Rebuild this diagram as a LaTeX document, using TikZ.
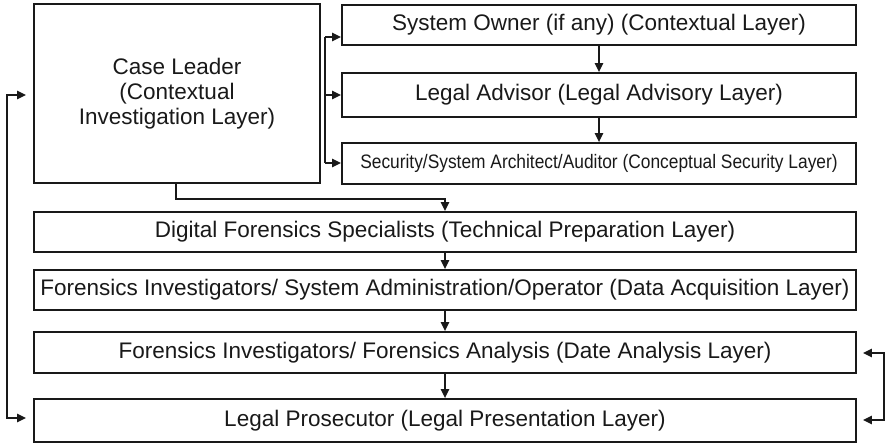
\documentclass[tikz,border=0pt]{standalone}
\usepackage{fontspec}
\setmainfont{Liberation Sans}
\usetikzlibrary{arrows.meta,calc}
\begin{document}
\begin{tikzpicture}[x=1pt,y=-1pt,
  box/.style={draw=black!90,line width=1.9pt,rectangle,inner sep=0pt,align=center,
    font=\fontsize{22.5}{25}\selectfont,text=black!90},
  conn/.style={draw=black!90,line width=1.4pt,-{Triangle[length=9pt,width=8.5pt]}},
  conn2/.style={draw=black!90,line width=1.4pt,{Triangle[length=9pt,width=8.5pt]}-{Triangle[length=9pt,width=8.5pt]}},
  line/.style={draw=black!90,line width=1.4pt}]
\useasboundingbox (0,0) rectangle (888,445);
\node[box,minimum width=286pt,minimum height=179pt] (cl) at (177,93.5) {Case Leader\\(Contextual\\Investigation Layer)};
\node[box,minimum width=514pt,minimum height=40pt] (so) at (599,25) {System Owner (if any) (Contextual Layer)};
\node[box,minimum width=514pt,minimum height=44pt] (la) at (599,95) {Legal Advisor (Legal Advisory Layer)};
\node[box,minimum width=514pt,minimum height=41pt] (se) at (599,163.5) {\fontsize{19.5}{22}\selectfont\scalebox{0.89}[1]{Security/System Architect/Auditor (Conceptual Security Layer)}};
\node[box,minimum width=822pt,minimum height=40pt] (df) at (445,232) {Digital Forensics Specialists (Technical Preparation Layer)};
\node[box,minimum width=822pt,minimum height=40pt] (fi) at (445,290) {Forensics Investigators/ System Administration/Operator (Data Acquisition Layer)};
\node[box,minimum width=822pt,minimum height=41pt] (fa) at (445,352.5) {Forensics Investigators/ Forensics Analysis (Date Analysis Layer)};
\node[box,minimum width=822pt,minimum height=43pt] (lp) at (445,420.5) {Legal Prosecutor (Legal Presentation Layer)};
% bus from case leader to right boxes
\coordinate (bt) at (325,37);
\coordinate (bm) at (325,95);
\coordinate (bb) at (325,163);
\draw[line] (bt) -- (bb);
\draw[conn] (bt) -- (bt -| so.west);
\draw[conn] (bm) -- (bm -| la.west);
\draw[conn] (bb) -- (bb -| se.west);
% vertical chain on right
\draw[conn] (so.south) -- (la.north);
\draw[conn] (la.south) -- (se.north);
% case leader to digital forensics
\draw[conn] ([xshift=-1pt]cl.south) -- ++(0,15) -| (df.north);
\draw[conn] (df.south) -- (fi.north);
\draw[conn] (fi.south) -- (fa.north);
\draw[conn] (fa.south) -- (lp.north);
% left feedback loop
\coordinate (lt) at (7,95);
\coordinate (lb) at (7,418);
\draw[conn2] ($(lt -| cl.west)+(-7,0)$) -- (lt) -- (lb) -- ($(lb -| lp.west)+(-7,0)$);
% right feedback loop
\coordinate (rt) at (884,353);
\coordinate (rb) at (884,420);
\draw[conn2] ($(rt -| fa.east)+(6,0)$) -- (rt) -- (rb) -- ($(rb -| lp.east)+(6,0)$);
\end{tikzpicture}
\end{document}
